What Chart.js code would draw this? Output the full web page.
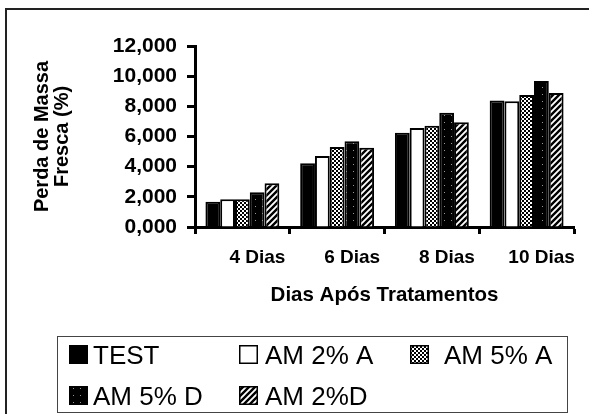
<!DOCTYPE html>
<html>
<head>
<meta charset="utf-8">
<script src="https://cdn.jsdelivr.net/npm/chart.js@4/dist/chart.umd.min.js"></script>
<style>
  html, body { margin: 0; padding: 0; background: #fff; }
  #wrap { width: 589px; height: 414px; position: relative; }
</style>
</head>
<body>
<div id="wrap"><canvas id="c" width="589" height="414"></canvas></div>
<script>
// Fresh-mass loss (%) by days after treatment
const categories = ['4 Dias', '6 Dias', '8 Dias', '10 Dias'];
const seriesNames = ['TEST', 'AM 2% A', 'AM 5% A', 'AM 5% D', 'AM 2%D'];
const test = [1.68, 4.22, 6.25, 8.38];
const am2A = [1.84, 4.71, 6.56, 8.34];
const am5A = [1.84, 5.30, 6.72, 8.75];
const am5D = [2.30, 5.68, 7.58, 9.68];
const am2D = [2.90, 5.26, 6.94, 8.89];
const yTicks = [0, 2, 4, 6, 8, 10, 12];

const FONT = "'Liberation Sans', Arial, Helvetica, sans-serif";

// Monochrome fill patterns
function makePattern(size, draw) {
  const c = document.createElement('canvas');
  c.width = size; c.height = size;
  const g = c.getContext('2d');
  draw(g, size);
  return g.createPattern(c, 'repeat');
}
const ctxMain = document.getElementById('c').getContext('2d');
const checker = makePattern(4, (g) => {
  g.fillStyle = '#000'; g.fillRect(0, 0, 4, 4);
  g.fillStyle = '#fff'; g.fillRect(0, 0, 2, 2); g.fillRect(2, 2, 2, 2);
});
const dotted = makePattern(7, (g) => {
  g.fillStyle = '#000'; g.fillRect(0, 0, 7, 7);
  g.fillStyle = '#9a9a9a'; g.fillRect(3, 3, 1, 1);
});
const stripes = makePattern(6, (g) => {
  g.fillStyle = '#fff'; g.fillRect(0, 0, 6, 6);
  g.strokeStyle = '#000'; g.lineWidth = 2.4;
  g.beginPath();
  g.moveTo(-1, 7); g.lineTo(7, -1);
  g.moveTo(-4, 4); g.lineTo(4, -4);
  g.moveTo(2, 10); g.lineTo(10, 2);
  g.stroke();
});

const fills = ['#000', '#fff', checker, dotted, stripes];
const values = [test, am2A, am5A, am5D, am2D];

// Outer frame (top and left edges) and boxed legend
const framePlugin = {
  id: 'frame',
  beforeDraw(chart) {
    const g = chart.ctx;
    g.save();
    g.fillStyle = '#fff';
    g.fillRect(0, 0, chart.width, chart.height);
    g.strokeStyle = '#222';
    g.lineWidth = 2;
    g.beginPath();
    g.moveTo(6, 414); g.lineTo(6, 9); g.lineTo(589, 9);
    g.stroke();
    g.restore();
  },
  afterDraw(chart) {
    const g = chart.ctx;
    g.save();
    g.strokeStyle = '#444';
    g.lineWidth = 1;
    g.strokeRect(57.5, 336.5, 510, 76);
    const cols = [{ box: 69, text: 93 }, { box: 239, text: 265 }, { box: 410, text: 444 }];
    const rows = [{ box: 345, base: 364 }, { box: 386, base: 405 }];
    g.font = '26px ' + FONT;
    g.textBaseline = 'alphabetic';
    g.textAlign = 'left';
    chart.data.datasets.forEach((ds, i) => {
      const col = cols[i % 3];
      const row = rows[Math.floor(i / 3)];
      g.fillStyle = ds.backgroundColor;
      g.fillRect(col.box, row.box, 19, 19);
      g.strokeStyle = '#000';
      g.lineWidth = 1.5;
      g.strokeRect(col.box + 0.75, row.box + 0.75, 17.5, 17.5);
      g.fillStyle = '#000';
      g.fillText(ds.label, col.text, row.base);
    });
    g.restore();
  }
};

new Chart(ctxMain, {
  type: 'bar',
  data: {
    labels: categories,
    datasets: seriesNames.map((name, i) => ({
      label: name,
      data: values[i],
      backgroundColor: fills[i],
      borderColor: '#000',
      borderWidth: 2,
      barPercentage: 1.0,
      categoryPercentage: 0.78
    }))
  },
  options: {
    responsive: false,
    animation: false,
    events: [],
    layout: { padding: { left: 20, right: 15, top: 46, bottom: 104 } },
    plugins: { legend: { display: false }, tooltip: { enabled: false } },
    scales: {
      x: {
        grid: {
          offset: true, drawOnChartArea: false, drawTicks: true,
          tickLength: 7, tickColor: '#000', tickWidth: 3
        },
        border: { display: true, color: '#000', width: 3 },
        ticks: {
          color: '#000', padding: 12, labelOffset: 15,
          font: { family: FONT, size: 19, weight: 'bold' }
        },
        title: {
          display: true, text: 'Dias Após Tratamentos', color: '#000',
          font: { family: FONT, size: 20.5, weight: 'bold', lineHeight: 1 },
          padding: { top: 0, bottom: 4 }
        },
        afterFit(scale) { scale.height = 83; }
      },
      y: {
        min: 0, max: 12,
        afterBuildTicks(scale) { scale.ticks = yTicks.map(v => ({ value: v })); },
        grid: {
          drawOnChartArea: false, drawTicks: true,
          tickLength: 8, tickColor: '#000', tickWidth: 3
        },
        border: { display: true, color: '#000', width: 3 },
        ticks: {
          color: '#000', padding: 10,
          font: { family: FONT, size: 21, weight: 'bold' },
          callback: (v) => Number(v).toFixed(3).replace('.', ',')
        },
        title: {
          display: true, text: ['Perda de Massa', 'Fresca (%)'], color: '#000',
          font: { family: FONT, size: 20, weight: 'bold', lineHeight: 1 },
          padding: { top: 12, bottom: 0 }
        },
        afterFit(scale) { scale.width = 175; }
      }
    }
  },
  plugins: [framePlugin]
});
</script>
</body>
</html>
